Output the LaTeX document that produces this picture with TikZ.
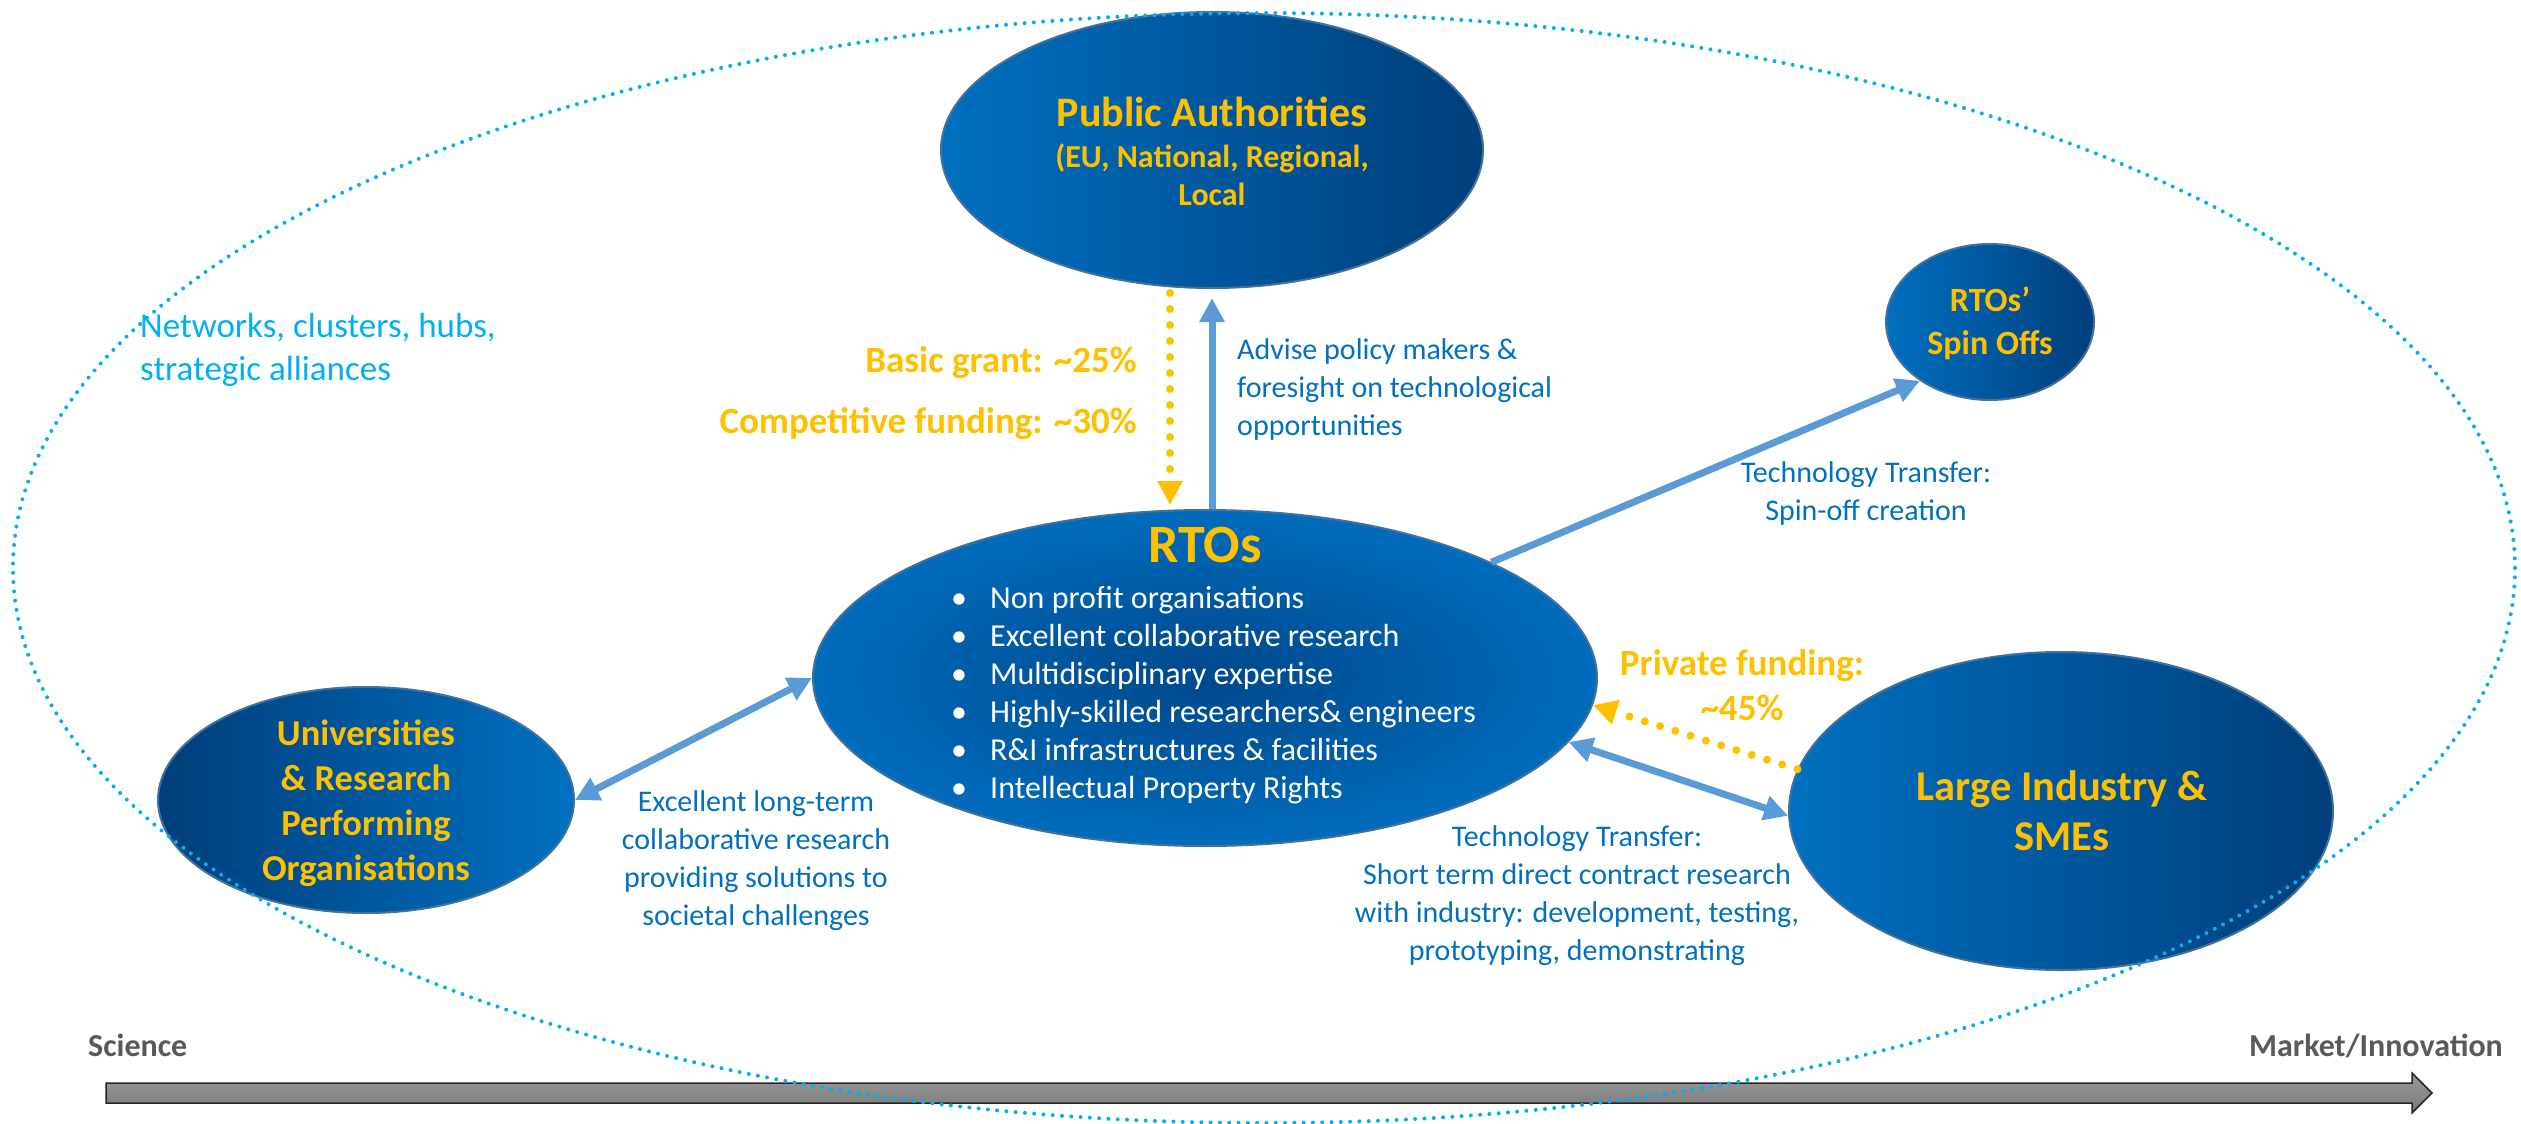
\documentclass[tikz,border=0pt]{standalone}
\usepackage{fontspec}
\setmainfont{Carlito}
\usetikzlibrary{shapes.geometric,arrows.meta,calc}
\definecolor{ylw}{RGB}{255,192,0}
\definecolor{lblue}{RGB}{0,112,192}
\definecolor{dblue}{RGB}{0,62,122}
\definecolor{rtoin}{RGB}{0,72,140}
\definecolor{rtoout}{RGB}{0,108,188}
\definecolor{edgeb}{RGB}{65,113,156}
\definecolor{arrb}{RGB}{91,155,213}
\definecolor{cyanb}{RGB}{0,176,240}
\definecolor{txtb}{RGB}{0,112,192}
\definecolor{grt}{RGB}{89,89,89}
\tikzset{
  ell/.style={ellipse, draw=edgeb, line width=2pt, inner sep=0pt},
  ttl/.style 2 args={text=ylw, font=\fontsize{#1}{#2}\selectfont\bfseries, inner sep=0pt, anchor=base, align=center},
  lbl/.style={text=txtb, font=\fontsize{30}{38}\selectfont, inner sep=0pt, anchor=base, align=center},
  barr/.style={draw=arrb, line width=7pt, -{Triangle[length=24pt,width=24pt]}},
  barrtwo/.style={draw=arrb, line width=7pt, {Triangle[length=24pt,width=24pt]}-{Triangle[length=24pt,width=24pt]}},
  yarr/.style={draw=ylw, line width=8pt, line cap=round, dash pattern=on 0pt off 16pt, -{Triangle[length=24pt,width=24pt,fill=ylw]}},
}
\begin{document}
\begin{tikzpicture}[x=1pt,y=-1pt]
\useasboundingbox (0,0) rectangle (2521,1124);
% main ellipses
\node[ell, minimum width=542pt, minimum height=276pt, left color=lblue, right color=dblue] (pa) at (1212,150) {};
\node[ell, minimum width=784pt, minimum height=336pt, inner color=rtoin, outer color=rtoout] (rto) at (1205,678) {};
\node[ell, minimum width=208pt, minimum height=156pt, left color=lblue, right color=dblue] (spin) at (1990,322) {};
\node[ell, minimum width=416pt, minimum height=226pt, left color=dblue, right color=lblue] (uni) at (366,800) {};
\node[ell, minimum width=544pt, minimum height=318pt, left color=lblue, right color=dblue] (ind) at (2061,811) {};
% connectors
\draw[yarr] ($(pa.south)+(-42,4)$) -- ($(pa.south |- rto.north)+(-42,-4)$);
\draw[barr] (pa.south |- rto.north) -- ($(pa.south)+(0,9)$);
\draw[barr] (rto.22) -- (spin.220);
\draw[barrtwo] (uni.east) -- (rto.west);
\draw[yarr] (ind.171) -- (rto.-4);
\draw[barrtwo] (rto.-10) -- (ind.181);
% texts in ellipses
\node[ttl={42}{48}] (pat) at (1212,126) {Public Authorities};
\node[ttl={32}{38}] (pas) at (1212,167) {(EU, National, Regional,};
\node[ttl={32}{38}] (pal) at (1212,205) {Local};
\node[ttl={54}{60}] (rtot) at (1205,562) {RTOs};
\node[text=white, font=\fontsize{32}{38}\selectfont, inner sep=0pt, anchor=base west, align=left] (list) at (951,798)
  {\makebox[39pt][l]{•}Non profit organisations\\
   \makebox[39pt][l]{•}Excellent collaborative research\\
   \makebox[39pt][l]{•}Multidisciplinary expertise\\
   \makebox[39pt][l]{•}Highly-skilled researchers\& engineers\\
   \makebox[39pt][l]{•}R\&I infrastructures \& facilities\\
   \makebox[39pt][l]{•}Intellectual Property Rights};
\node[ttl={34}{43}] (spint) at (1990,354) {RTOs’\\Spin Offs};
\node[ttl={36.5}{45}] (unit) at (366,880) {Universities\\\& Research\\Performing\\Organisations};
\node[ttl={42.5}{50}] (indt) at (2062,850) {Large Industry \&\\SMEs};
% labels
\node[ttl={37}{45}, anchor=base east] (bg) at (1137,372) {Basic grant: \textasciitilde25\%};
\node[ttl={37}{45}, anchor=base east] (cf) at (1137,433) {Competitive funding: \textasciitilde30\%};
\node[ttl={37}{45}] (pf) at (1742,720) {Private funding:\\\textasciitilde45\%};
\node[lbl, anchor=base west, align=left] (adv) at (1237,435) {Advise policy makers \&\\foresight on technological\\opportunities};
\node[lbl] (ttsp) at (1866,520) {Technology Transfer:\\Spin-off creation};
\node[lbl] (exc) at (756,925) {Excellent long-term\\collaborative research\\providing solutions to\\societal challenges};
\node[lbl] (ttind) at (1577,960) {Technology Transfer:\\Short term direct contract research\\with industry: development, testing,\\prototyping, demonstrating};
\node[text=cyanb, font=\fontsize{35}{43}\selectfont, inner sep=0pt, anchor=base west, align=left] (net) at (140,380) {Networks, clusters, hubs,\\strategic alliances};
% bottom axis
\draw[draw=black!85, line width=1.5pt, top color=black!40, bottom color=black!52]
  (106,1083) -- (2412,1083) -- (2412,1073) -- (2432,1093) -- (2412,1113) -- (2412,1103) -- (106,1103) -- cycle;
\node[text=grt, font=\fontsize{32}{36}\selectfont\bfseries, inner sep=0pt, anchor=base west] (sci) at (88,1056) {Science};
\node[text=grt, font=\fontsize{32}{36}\selectfont\bfseries, inner sep=0pt, anchor=base east] (mkt) at (2503,1056) {Market/Innovation};
% outer dotted ellipse
\draw[cyanb, line width=4pt, line cap=round, dash pattern=on 0pt off 9.3pt] (1264,568) ellipse [x radius=1251, y radius=555];
\end{tikzpicture}
\end{document}
